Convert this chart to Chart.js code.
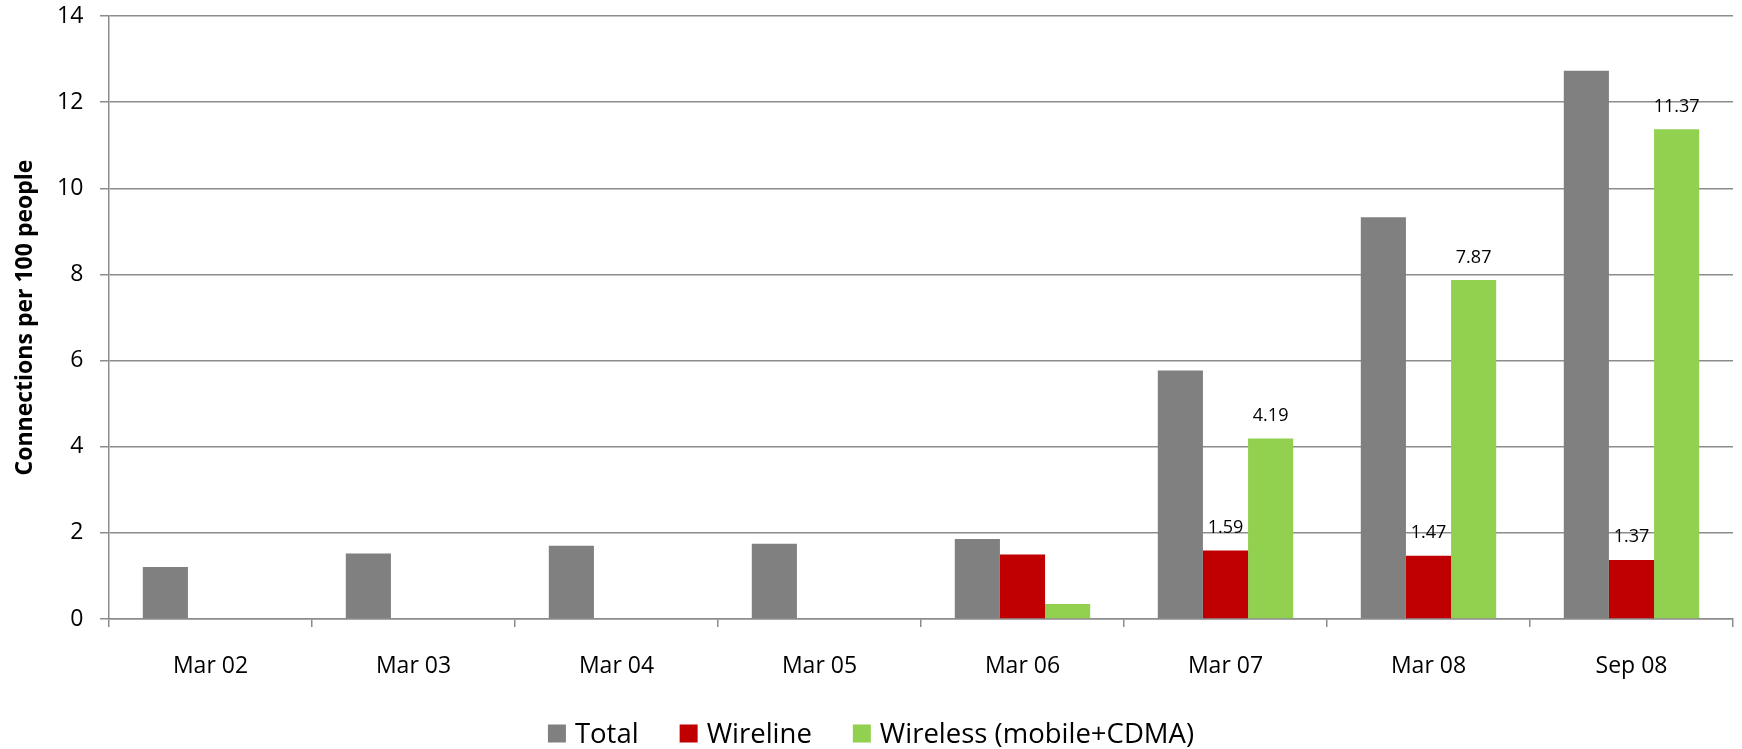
<!DOCTYPE html>
<html>
<head>
<meta charset="utf-8">
<title>Connections per 100 people</title>
<script src="https://cdn.jsdelivr.net/npm/chart.js@4/dist/chart.umd.min.js"></script>
<style>
  html, body { margin: 0; padding: 0; background: #ffffff; }
  #wrap { width: 1742px; height: 749px; }
</style>
</head>
<body>
<div id="wrap"><canvas id="chart" width="1742" height="749"></canvas></div>
<script>
// Survey periods on the x axis
const categories = ['Mar 02', 'Mar 03', 'Mar 04', 'Mar 05', 'Mar 06', 'Mar 07', 'Mar 08', 'Sep 08'];

// Connections per 100 people, by type
const totalValues    = [1.21, 1.52, 1.70, 1.75, 1.86, 5.77, 9.33, 12.73];
const wirelineValues = [null, null, null, null, 1.50, 1.59, 1.47, 1.37];
const wirelessValues = [null, null, null, null, 0.35, 4.19, 7.87, 11.37];

// Periods whose wireline / wireless bars carry a value label
const labelledCategories = ['Mar 07', 'Mar 08', 'Sep 08'];

// Value axis
const yMin = 0;
const yMax = 14;
const yStep = 2;

const FONT = '"Open Sans", Lato, sans-serif';
const GRID = '#8c8c8c';

// Numeric labels above the wireline and wireless bars
const valueLabels = {
  id: 'valueLabels',
  afterDatasetsDraw(chart) {
    const ctx = chart.ctx;
    ctx.save();
    ctx.font = '18px ' + FONT;
    ctx.fillStyle = '#000000';
    ctx.textAlign = 'center';
    ctx.textBaseline = 'alphabetic';
    [1, 2].forEach(di => {
      const meta = chart.getDatasetMeta(di);
      const values = chart.data.datasets[di].data;
      chart.data.labels.forEach((cat, i) => {
        if (!labelledCategories.includes(cat) || values[i] == null) return;
        const bar = meta.data[i];
        ctx.fillText(values[i].toFixed(2), bar.x, bar.y - 17.5);
      });
    });
    ctx.restore();
  }
};

// Legend row centred under the axis labels
const bottomLegend = {
  id: 'bottomLegend',
  afterDraw(chart) {
    const ctx = chart.ctx;
    ctx.save();
    ctx.font = '27.5px ' + FONT;
    const box = 18, textGap = 9, itemGap = 41;
    const items = chart.data.datasets.map(ds => ({
      text: ds.label, color: ds.backgroundColor, w: ctx.measureText(ds.label).width
    }));
    const total = items.reduce((s, it) => s + box + textGap + it.w, 0) + itemGap * (items.length - 1);
    let x = (chart.width - total) / 2;
    const baseline = chart.height - 6.5;
    ctx.textBaseline = 'alphabetic';
    ctx.textAlign = 'left';
    items.forEach(it => {
      ctx.fillStyle = it.color;
      ctx.fillRect(x, baseline - box, box, box);
      x += box + textGap;
      ctx.fillStyle = '#000000';
      ctx.fillText(it.text, x, baseline);
      x += it.w + itemGap;
    });
    ctx.restore();
  }
};

new Chart(document.getElementById('chart'), {
  type: 'bar',
  data: {
    labels: categories,
    datasets: [
      { label: 'Total', data: totalValues, backgroundColor: '#808080' },
      { label: 'Wireline', data: wirelineValues, backgroundColor: '#c00000' },
      { label: 'Wireless (mobile+CDMA)', data: wirelessValues, backgroundColor: '#92d050' }
    ]
  },
  options: {
    responsive: false,
    devicePixelRatio: 1,
    animation: false,
    categoryPercentage: 0.667,
    barPercentage: 1.0,
    layout: { padding: { left: 11.2, right: 9, top: 16, bottom: 43 } },
    plugins: {
      legend: { display: false },
      tooltip: { enabled: false }
    },
    scales: {
      x: {
        grid: {
          offset: true,
          drawOnChartArea: false,
          drawTicks: true,
          tickLength: 8,
          color: GRID,
          lineWidth: 1.5
        },
        border: { color: GRID, width: 1.5 },
        ticks: {
          color: '#000000',
          font: { family: FONT, size: 23 },
          padding: 25.7,
          maxRotation: 0
        }
      },
      y: {
        min: yMin,
        max: yMax,
        ticks: {
          stepSize: yStep,
          color: '#000000',
          font: { family: FONT, size: 23 },
          padding: 16.7
        },
        grid: {
          color: GRID,
          lineWidth: 1.5,
          drawTicks: true,
          tickLength: 9
        },
        border: { color: GRID, width: 1.5 },
        title: {
          display: true,
          text: 'Connections per 100 people',
          color: '#000000',
          font: { family: FONT, size: 23, weight: 'bold' },
          padding: { top: 0, bottom: 1.5 }
        },
        // the top tick label may overhang the plot edge
        afterFit(scale) {
          scale.paddingTop = 0;
          scale.paddingBottom = 0;
        }
      }
    }
  },
  plugins: [valueLabels, bottomLegend]
});
</script>
</body>
</html>
